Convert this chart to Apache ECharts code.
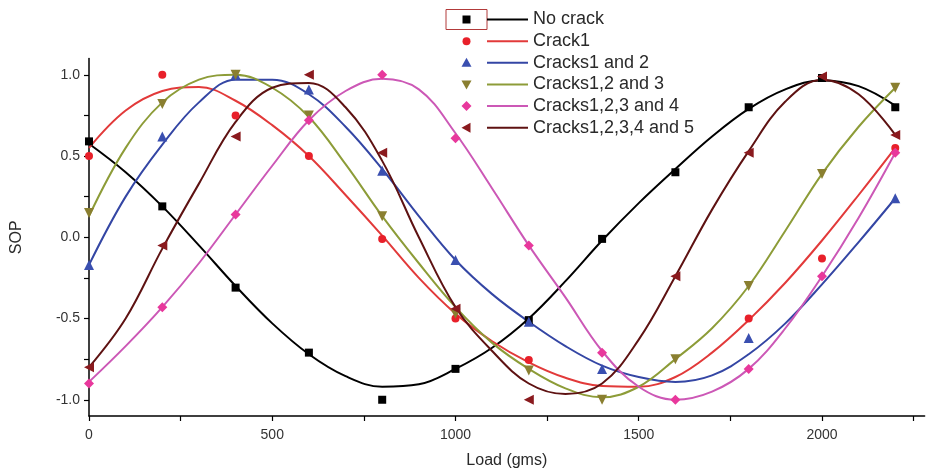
<!DOCTYPE html>
<html>
<head>
<meta charset="utf-8">
<script src="https://cdn.jsdelivr.net/npm/echarts@6/dist/echarts.min.js"></script>
<style>html,body{margin:0;padding:0;background:#fff;}#c{width:929px;height:472px;}</style>
</head>
<body>
<div id="c"></div>
<script>
// ---- data ----
const seriesNames = ['No crack', 'Crack1', 'Cracks1 and 2', 'Cracks1,2 and 3', 'Cracks1,2,3 and 4', 'Cracks1,2,3,4 and 5'];
const loads = [0, 200, 400, 600, 800, 1000, 1200, 1400, 1600, 1800, 2000, 2200];
const noCrack = [0.59, 0.19, -0.31, -0.71, -1.00, -0.81, -0.51, -0.01, 0.40, 0.80, 0.98, 0.80];
const crack1  = [0.50, 1.00, 0.75, 0.50, -0.01, -0.50, -0.755, null, null, -0.50, -0.13, 0.55];
const cracks12 = [-0.17, 0.62, 1.00, 0.91, 0.41, -0.14, -0.52, -0.81, null, -0.62, null, 0.24];
const cracks123 = [0.15, 0.82, 1.00, 0.75, 0.13, -0.47, -0.82, -1.00, -0.75, -0.30, 0.39, 0.92];
const cracks1234 = [-0.90, -0.43, 0.14, 0.72, 1.00, 0.61, -0.05, -0.71, -1.00, -0.81, -0.24, 0.52];
const cracks12345 = [-0.80, -0.05, 0.62, 1.00, 0.52, -0.44, -1.00, null, -0.24, 0.52, 0.99, 0.63];

// fitted curves, read at every 100 gms
const fitLoads = [0,100,200,300,400,500,600,700,800,900,1000,1100,1200,1300,1400,1500,1600,1700,1800,1900,2000,2100,2200];
const fitNoCrack = [0.575, 0.40, 0.19, -0.05, -0.30, -0.53, -0.72, -0.855, -0.92, -0.905, -0.81, -0.68, -0.50, -0.27, -0.02, 0.21, 0.42, 0.62, 0.79, 0.91, 0.965, 0.93, 0.81];
const fitCrack1 = [0.55, 0.78, 0.90, 0.925, 0.84, 0.69, 0.50, 0.26, 0.01, -0.25, -0.47, -0.64, -0.77, -0.865, -0.915, -0.92, -0.86, -0.71, -0.51, -0.28, -0.02, 0.26, 0.55];
const fitCracks12 = [-0.17, 0.25, 0.57, 0.83, 0.97, 0.97, 0.88, 0.68, 0.42, 0.13, -0.14, -0.35, -0.52, -0.67, -0.79, -0.86, -0.89, -0.85, -0.72, -0.53, -0.29, -0.03, 0.24];
const fitCracks123 = [0.13, 0.55, 0.83, 0.97, 1.00, 0.92, 0.74, 0.45, 0.13, -0.16, -0.43, -0.65, -0.81, -0.93, -0.985, -0.92, -0.75, -0.56, -0.30, 0.04, 0.39, 0.68, 0.92];
const fitCracks1234 = [-0.89, -0.67, -0.43, -0.16, 0.14, 0.44, 0.72, 0.90, 0.975, 0.91, 0.64, 0.30, -0.05, -0.37, -0.70, -0.92, -1.00, -0.95, -0.81, -0.56, -0.24, 0.12, 0.52];
const fitCracks12345 = [-0.80, -0.50, -0.07, 0.33, 0.71, 0.92, 0.95, 0.80, 0.47, 0.00, -0.43, -0.70, -0.90, -0.965, -0.90, -0.63, -0.24, 0.17, 0.53, 0.835, 0.97, 0.88, 0.63];

const xLabelValues = [0, 500, 1000, 1500, 2000];
const xTickValues = [0, 250, 500, 750, 1000, 1250, 1500, 1750, 2000, 2250];
const yLabelValues = [-1.0, -0.5, 0.0, 0.5, 1.0];
const yTickValues = [-1.0, -0.75, -0.5, -0.25, 0.0, 0.25, 0.5, 0.75, 1.0];

// ---- styles ----
const points = [noCrack, crack1, cracks12, cracks123, cracks1234, cracks12345];
const fits = [fitNoCrack, fitCrack1, fitCracks12, fitCracks123, fitCracks1234, fitCracks12345];
const markerColors = ['#000000', '#e8202a', '#3a4fb0', '#8a7f30', '#e8389c', '#8a1a1e'];
const lineColors = ['#000000', '#e23a3a', '#3446a4', '#8d9c38', '#cc58b6', '#5e1212'];
const symbols = ['rect', 'circle', 'triangle', 'triangle', 'diamond', 'triangle'];
const symbolRot = [0, 0, 0, 180, 0, 90];
const symbolSizes = [8, 8, 10, 10, 10, 10];

const series = [];
fits.forEach((f, i) => {
  series.push({
    type: 'line', name: seriesNames[i] + ' fit', smooth: 0.38, showSymbol: false, z: 2,
    lineStyle: { color: lineColors[i], width: 2 }, itemStyle: { color: lineColors[i] },
    data: fitLoads.map((x, k) => [x, f[k]]), silent: true
  });
});
points.forEach((p, i) => {
  series.push({
    type: 'scatter', name: seriesNames[i], z: 3,
    symbol: symbols[i], symbolRotate: symbolRot[i], symbolSize: symbolSizes[i],
    itemStyle: { color: markerColors[i], opacity: 1 },
    data: loads.map((x, k) => [x, p[k]]).filter(d => d[1] !== null)
  });
});

// legend drawn as graphic
const legendX = 466.5, lineX0 = 487, lineX1 = 528, textX = 533, rowY0 = 19.5, rowStep = 21.65;
function legendSymbol(i, cx, cy) {
  const c = markerColors[i];
  switch (i) {
    case 0: return { type: 'rect', shape: { x: cx - 4, y: cy - 4, width: 8, height: 8 }, style: { fill: c } };
    case 1: return { type: 'circle', shape: { cx: cx, cy: cy, r: 4 }, style: { fill: c } };
    case 2: return { type: 'polygon', shape: { points: [[cx, cy - 5], [cx + 5, cy + 4], [cx - 5, cy + 4]] }, style: { fill: c } };
    case 3: return { type: 'polygon', shape: { points: [[cx - 5, cy - 4], [cx + 5, cy - 4], [cx, cy + 5]] }, style: { fill: c } };
    case 4: return { type: 'polygon', shape: { points: [[cx, cy - 5], [cx + 5, cy], [cx, cy + 5], [cx - 5, cy]] }, style: { fill: c } };
    default: return { type: 'polygon', shape: { points: [[cx - 5, cy], [cx + 4, cy - 5], [cx + 4, cy + 5]] }, style: { fill: c } };
  }
}
const graphics = [{ type: 'rect', shape: { x: 446, y: 9.5, width: 41, height: 20 }, style: { fill: 'none', stroke: '#b23a3a', lineWidth: 1 } }];
seriesNames.forEach((n, i) => {
  const cy = rowY0 + i * rowStep;
  graphics.push(legendSymbol(i, legendX, cy));
  graphics.push({ type: 'line', shape: { x1: lineX0, y1: cy, x2: lineX1, y2: cy }, style: { stroke: lineColors[i], lineWidth: 2 } });
  graphics.push({ type: 'text', x: textX, y: cy, style: { text: n, fill: '#2a2a2a', font: '18px "Liberation Sans", Arial, sans-serif', verticalAlign: 'middle', align: 'left' } });
});

const chart = echarts.init(document.getElementById('c'), null, { renderer: 'canvas' });
chart.setOption({
  animation: false,
  backgroundColor: '#ffffff',
  grid: { left: 89, right: 4.4, top: 58.5, bottom: 56, containLabel: false, outerBoundsMode: 'none' },
  xAxis: {
    type: 'value', min: 0, max: 2280,
    name: 'Load (gms)', nameLocation: 'middle', nameGap: 37,
    nameTextStyle: { fontFamily: 'Liberation Sans', fontSize: 16, color: '#2a2a2a' },
    axisLine: { show: true, onZero: false, lineStyle: { color: '#000', width: 1.5 } },
    axisTick: { show: true, length: 5, customValues: xTickValues, lineStyle: { color: '#000', width: 1.2 } },
    axisLabel: { customValues: xLabelValues, formatter: v => String(v), fontFamily: 'Liberation Sans', fontSize: 14, color: '#333', margin: 12 },
    splitLine: { show: false }
  },
  yAxis: {
    type: 'value', min: -1.1, max: 1.1,
    name: 'SOP', nameLocation: 'middle', nameGap: 64, nameRotate: 90,
    nameTextStyle: { fontFamily: 'Liberation Sans', fontSize: 16, color: '#2a2a2a' },
    axisLine: { show: true, onZero: false, lineStyle: { color: '#000', width: 1.5 } },
    axisTick: { show: true, length: 5, customValues: yTickValues, lineStyle: { color: '#000', width: 1.2 } },
    axisLabel: { customValues: yLabelValues, formatter: v => v.toFixed(1), fontFamily: 'Liberation Sans', fontSize: 14, color: '#333', margin: 9 },
    splitLine: { show: false }
  },
  series: series,
  graphic: graphics
});
</script>
</body>
</html>
